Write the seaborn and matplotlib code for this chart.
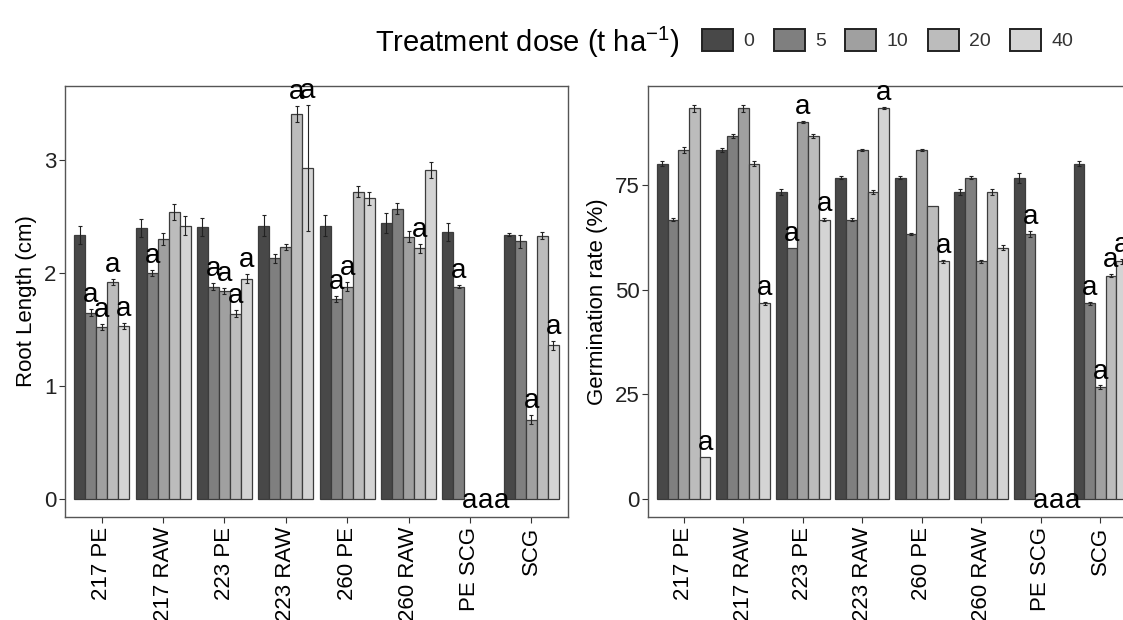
import numpy as np
import pandas as pd
import matplotlib
matplotlib.use("Agg")
import matplotlib.pyplot as plt
import seaborn as sns

# ---------------- data ----------------
samples = ['217 PE', '217 RAW', '223 PE', '223 RAW', '260 PE', '260 RAW', 'PE SCG', 'SCG']
doses = ['0', '5', '10', '20', '40']

root_0 = [2.34, 2.40, 2.41, 2.42, 2.42, 2.44, 2.36, 2.34]
root_5 = [1.65, 2.00, 1.88, 2.13, 1.77, 2.57, 1.88, 2.28]
root_10 = [1.52, 2.30, 1.84, 2.23, 1.88, 2.32, 0.0, 0.70]
root_20 = [1.92, 2.54, 1.64, 3.41, 2.72, 2.22, 0.0, 2.33]
root_40 = [1.53, 2.42, 1.95, 2.93, 2.66, 2.91, 0.0, 1.36]

root_se_0 = [0.08, 0.08, 0.08, 0.09, 0.09, 0.09, 0.08, 0.01]
root_se_5 = [0.03, 0.025, 0.03, 0.04, 0.03, 0.05, 0.015, 0.06]
root_se_10 = [0.025, 0.05, 0.025, 0.03, 0.04, 0.05, 0.0, 0.04]
root_se_20 = [0.03, 0.07, 0.03, 0.07, 0.05, 0.04, 0.0, 0.03]
root_se_40 = [0.03, 0.08, 0.04, 0.56, 0.06, 0.07, 0.0, 0.04]

germ_0 = [80.0, 83.3, 73.3, 76.7, 76.7, 73.3, 76.7, 80.0]
germ_5 = [66.7, 86.7, 60.0, 66.7, 63.3, 76.7, 63.3, 46.7]
germ_10 = [83.3, 93.3, 90.0, 83.3, 83.3, 56.7, 0.0, 26.7]
germ_20 = [93.3, 80.0, 86.7, 73.3, 70.0, 73.3, 0.0, 53.3]
germ_40 = [10.0, 46.7, 66.7, 93.3, 56.7, 60.0, 0.0, 56.7]

germ_se_0 = [0.6, 0.4, 0.8, 0.4, 0.3, 0.8, 1.2, 0.6]
germ_se_5 = [0.3, 0.4, 0.0, 0.3, 0.3, 0.4, 0.8, 0.4]
germ_se_10 = [0.8, 0.8, 0.3, 0.3, 0.3, 0.3, 0.0, 0.4]
germ_se_20 = [0.8, 0.6, 0.4, 0.4, 0.0, 0.8, 0.0, 0.4]
germ_se_40 = [0.0, 0.4, 0.3, 0.3, 0.3, 0.6, 0.0, 0.6]

root_let_0 = ['', '', '', '', '', '', '', '']
root_let_5 = ['a', 'a', 'a', '', 'a', '', 'a', '']
root_let_10 = ['a', '', 'a', '', 'a', '', 'a', 'a']
root_let_20 = ['a', '', 'a', 'a', '', 'a', 'a', '']
root_let_40 = ['a', '', 'a', 'a', '', '', 'a', 'a']

germ_let_0 = ['', '', '', '', '', '', '', '']
germ_let_5 = ['', '', 'a', '', '', '', 'a', 'a']
germ_let_10 = ['', '', 'a', '', '', '', 'a', 'a']
germ_let_20 = ['', '', '', '', '', '', 'a', 'a']
germ_let_40 = ['a', 'a', 'a', 'a', 'a', '', 'a', 'a']

root_ticks = [0, 1, 2, 3]
germ_ticks = [0, 25, 50, 75]

colors = ['#484848', '#7f7f7f', '#a0a0a0', '#bcbcbc', '#d4d4d4']

# ---------------- style ----------------
sns.set_style('white')
plt.rcParams['font.family'] = ['Liberation Sans', 'DejaVu Sans']
plt.rcParams['mathtext.fontset'] = 'custom'
plt.rcParams['mathtext.rm'] = 'Liberation Sans'
plt.rcParams['mathtext.it'] = 'Liberation Sans'


def build(vals, ses, lets):
    rows = []
    for d, v, s, l in zip(doses, vals, ses, lets):
        for smp, vv, ss, ll in zip(samples, v, s, l):
            rows.append(dict(Sample=smp, Dose=d, value=vv, se=ss, let=ll))
    return pd.DataFrame(rows)


df_root = build([root_0, root_5, root_10, root_20, root_40],
                [root_se_0, root_se_5, root_se_10, root_se_20, root_se_40],
                [root_let_0, root_let_5, root_let_10, root_let_20, root_let_40])
df_germ = build([germ_0, germ_5, germ_10, germ_20, germ_40],
                [germ_se_0, germ_se_5, germ_se_10, germ_se_20, germ_se_40],
                [germ_let_0, germ_let_5, germ_let_10, germ_let_20, germ_let_40])

W, H = 1123, 620
fig = plt.figure(figsize=(W / 100, H / 100), dpi=100)
ax1 = fig.add_axes([65 / W, (H - 517) / H, 503 / W, 431 / H])
ax2 = fig.add_axes([648 / W, (H - 517) / H, 488 / W, 431 / H])

edge = '#3c3c3c'


def draw(ax, df, ylabel, ylim, ticks):
    sns.barplot(data=df, x='Sample', y='value', hue='Dose', order=samples,
                hue_order=doses, palette=colors, width=0.9, gap=0,
                errorbar=None, edgecolor=edge, linewidth=0.9, ax=ax,
                legend=True)
    conts = list(ax.containers)
    for di, cont in enumerate(conts):
        sub = df[df.Dose == doses[di]].set_index('Sample').loc[samples]
        for si, bar in enumerate(cont):
            x = bar.get_x() + bar.get_width() / 2
            h = sub['value'].iloc[si]
            se = sub['se'].iloc[si]
            let = sub['let'].iloc[si]
            if h == 0:
                bar.set_visible(False)
            if se > 0:
                ax.errorbar(x, h, yerr=se, fmt='none', ecolor='#222222',
                            elinewidth=0.8, capsize=1.4, capthick=0.8, zorder=5)
            if let:
                if h == 0:
                    # letters of empty bars sit on the zero line, side by side
                    ax.annotate(let, (x, 0), xytext=((di - 2) * 3.6, -1.5),
                                textcoords='offset points', ha='center',
                                va='center', fontsize=20, color='black',
                                annotation_clip=False, zorder=6)
                else:
                    ax.annotate(let, (x, h + se), xytext=(0, 5),
                                textcoords='offset points', ha='center',
                                va='baseline', fontsize=20, color='black',
                                annotation_clip=False, zorder=6)
    ax.set_xlim(-0.6, 7.6)
    ax.set_ylim(*ylim)
    ax.set_yticks(ticks)
    ax.set_yticklabels([str(t) for t in ticks])
    ax.set_xlabel('')
    ax.set_ylabel(ylabel, fontsize=16, labelpad=5, color='black')
    ax.tick_params(axis='x', labelrotation=90, labelsize=16, length=4,
                   width=0.8, color='#333333', pad=3, labelcolor='black')
    ax.tick_params(axis='y', labelsize=16, length=4, width=0.8,
                   color='#333333', pad=2, labelcolor='#222222')
    ax.tick_params(bottom=True, left=True)
    for sp in ax.spines.values():
        sp.set_visible(True)
        sp.set_color('#555555')
        sp.set_linewidth(1.0)
    ax.grid(False)


draw(ax1, df_root, 'Root Length (cm)', (-0.16, 3.655), root_ticks)
draw(ax2, df_germ, 'Germination rate (%)', (-4.3, 98.6), germ_ticks)

handles, labels = ax1.get_legend_handles_labels()
ax1.get_legend().remove()
ax2.get_legend().remove()

fig.text(375 / W, 1 - 42 / H, r'Treatment dose (t ha$^{-1}$)', fontsize=21,
         va='center', ha='left', color='black')
leg = fig.legend(handles, labels, loc='center left',
                 bbox_to_anchor=(702 / W, 1 - 40 / H), ncol=5, frameon=False,
                 fontsize=14, handlelength=1.6, handleheight=1.34,
                 handletextpad=0.52, columnspacing=1.0, borderpad=0,
                 borderaxespad=0)
for h in leg.legend_handles:
    h.set_edgecolor('#222222')
    h.set_linewidth(1.4)
for t in leg.get_texts():
    t.set_color('#333333')

fig.savefig('out.png', dpi=100)
